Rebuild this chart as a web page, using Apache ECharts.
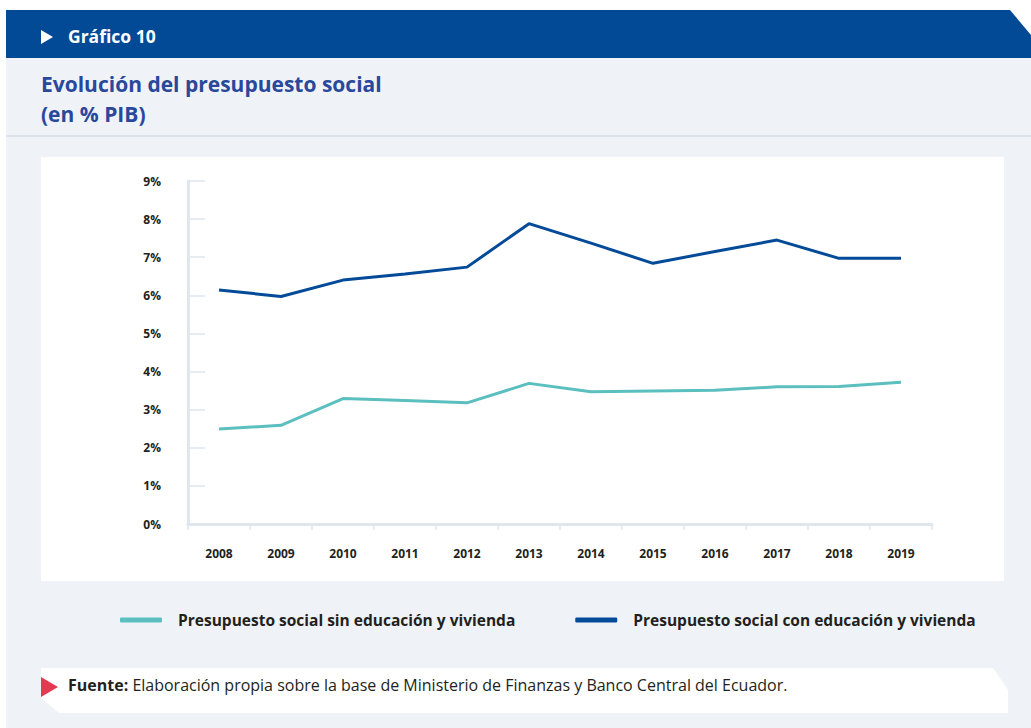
<!DOCTYPE html>
<html>
<head>
<meta charset="utf-8">
<title>Evolución del presupuesto social</title>
<script src="https://cdn.jsdelivr.net/npm/echarts@6/dist/echarts.min.js"></script>
<style>
  html, body { margin: 0; padding: 0; background: #ffffff; }
  #chart { width: 1031px; height: 728px; }
</style>
</head>
<body>
<div id="chart"></div>
<script>
// Years on the horizontal axis
const years = ['2008', '2009', '2010', '2011', '2012', '2013', '2014', '2015', '2016', '2017', '2018', '2019'];

// Social budget as % of GDP
const sinEducacionVivienda = [2.49, 2.59, 3.29, 3.24, 3.18, 3.69, 3.47, 3.49, 3.51, 3.60, 3.61, 3.72];
const conEducacionVivienda = [6.14, 5.97, 6.40, 6.56, 6.74, 7.88, 7.37, 6.84, 7.15, 7.45, 6.97, 6.97];

const seriesNames = [
  'Presupuesto social sin educación y vivienda',
  'Presupuesto social con educación y vivienda'
];

const yTicks = { min: 0, max: 9, step: 1 };

const chart = echarts.init(document.getElementById('chart'), null, { renderer: 'svg' });

const FONT = '"Open Sans", "Noto Sans", sans-serif';
const TEAL = '#5bbfbf';
const NAVY = '#034a98';
const AXIS = '#dfe6ee';
const INK = '#231f20';

chart.setOption({
  backgroundColor: '#ffffff',
  textStyle: { fontFamily: FONT },
  graphic: [
    // page backdrop
    { type: 'rect', z: -10, silent: true, shape: { x: 6, y: 58, width: 1025, height: 670 }, style: { fill: '#eff3f7' } },
    // header band with clipped corner
    { type: 'polygon', z: -9, silent: true,
      shape: { points: [[6, 10], [1010, 10], [1031, 35], [1031, 58], [6, 58]] },
      style: { fill: '#034a96' } },
    { type: 'polygon', z: -8, silent: true,
      shape: { points: [[41, 30], [53, 37], [41, 44]] },
      style: { fill: '#ffffff' } },
    { type: 'text', z: -8, silent: true, left: 68, top: 27,
      style: { text: 'Gráfico 10', fill: '#ffffff', font: 'bold 17.5px ' + FONT } },
    // title
    { type: 'text', z: -8, silent: true, left: 41, top: 69,
      style: { text: 'Evolución del presupuesto social\n(en % PIB)', fill: '#2a489b',
               font: 'bold 21px ' + FONT, lineHeight: 30 } },
    // separator
    { type: 'rect', z: -8, silent: true, shape: { x: 6, y: 135, width: 1025, height: 2 }, style: { fill: '#dce2e9' } },
    // white plot panel
    { type: 'rect', z: -8, silent: true, shape: { x: 41, y: 157, width: 963, height: 424 }, style: { fill: '#ffffff' } },
    // source box
    { type: 'polygon', z: -8, silent: true,
      shape: { points: [[41, 668], [993, 668], [1008, 690], [1008, 713], [59, 713], [41, 698]] },
      style: { fill: '#ffffff' } },
    { type: 'polygon', z: -7, silent: true,
      shape: { points: [[41, 677], [58, 687], [41, 697]] },
      style: { fill: '#e13a52' } },
    { type: 'text', z: -7, silent: true, left: 68, top: 677,
      style: {
        text: '{b|Fuente:} Elaboración propia sobre la base de Ministerio de Finanzas y Banco Central del Ecuador.',
        fill: INK, font: '16px ' + FONT,
        rich: { b: { fontWeight: 'bold', fontSize: 16, fontFamily: FONT, fill: INK } }
      } }
  ],
  legend: {
    left: 115,
    top: 607,
    icon: 'roundRect',
    itemWidth: 42,
    itemHeight: 5,
    itemGap: 60,
    textStyle: { color: INK, fontSize: 15.5, fontWeight: 'bold', fontFamily: FONT, padding: [0, 0, 0, 11] },
    data: seriesNames
  },
  grid: { left: 188, right: 99, top: 181, bottom: 204, containLabel: false },
  xAxis: {
    type: 'category',
    data: years,
    boundaryGap: true,
    axisLine: { lineStyle: { color: AXIS, width: 3 } },
    axisTick: { show: true, length: 6, lineStyle: { color: AXIS, width: 1.5 } },
    axisLabel: { color: INK, fontSize: 12, fontWeight: 'bold', margin: 23, fontFamily: FONT },
    splitLine: { show: false }
  },
  yAxis: {
    type: 'value',
    min: yTicks.min,
    max: yTicks.max,
    interval: yTicks.step,
    axisLine: { show: true, lineStyle: { color: AXIS, width: 3 } },
    axisTick: { show: true, inside: true, length: 17, lineStyle: { color: AXIS, width: 1.5 } },
    axisLabel: { color: INK, fontSize: 12, fontWeight: 'bold', margin: 27, formatter: '{value}%', fontFamily: FONT },
    splitLine: { show: false }
  },
  series: [
    {
      name: seriesNames[0],
      type: 'line',
      data: sinEducacionVivienda,
      showSymbol: false,
      symbol: 'none',
      color: TEAL,
      lineStyle: { color: TEAL, width: 3 },
      itemStyle: { color: TEAL },
      animation: false
    },
    {
      name: seriesNames[1],
      type: 'line',
      data: conEducacionVivienda,
      showSymbol: false,
      symbol: 'none',
      color: NAVY,
      lineStyle: { color: NAVY, width: 3 },
      itemStyle: { color: NAVY },
      animation: false
    }
  ]
});
</script>
</body>
</html>
